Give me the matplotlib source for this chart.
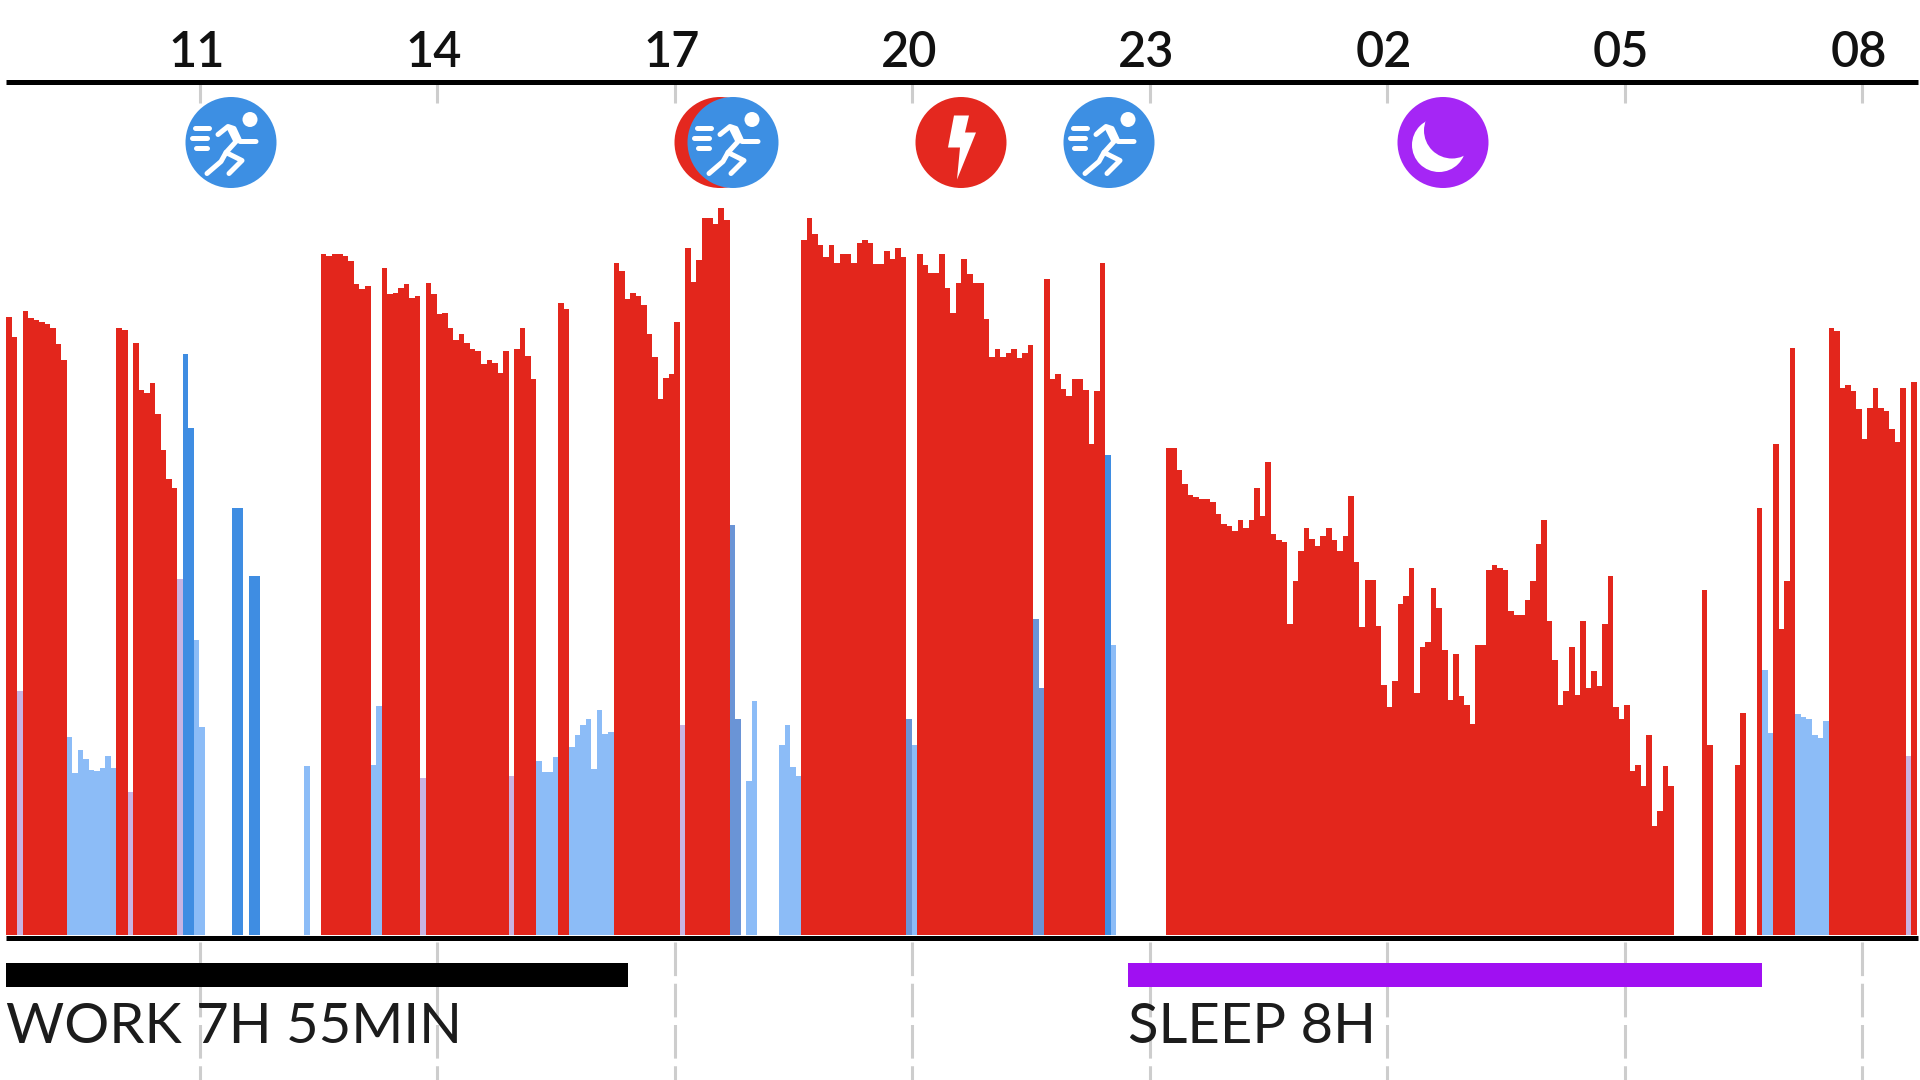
import matplotlib
matplotlib.use("Agg")
import matplotlib.pyplot as plt
from matplotlib.patches import Circle, Polygon
from matplotlib.transforms import ScaledTranslation
import numpy as np

plt.rcParams['font.family'] = ['Lato', 'DejaVu Sans']

# ---- data -------------------------------------------------------------
tick_hours = [11, 14, 17, 20, 23, 26, 29, 32]
tick_labels = ['11', '14', '17', '20', '23', '02', '05', '08']
bins_per_3h = 43
values = [
    1310,1268,518,1323,1308,1304,1300,1295,1286,1252,1218,420,344,393,373,350,348,353,380,353,
    1286,1282,303,1255,1154,1148,1170,1105,1028,966,948,755,1231,1074,626,440,0,0,0,0,
    0,904,904,0,760,760,0,0,0,0,0,0,0,0,358,0,0,1443,1438,1443,
    1444,1438,1428,1380,1368,1376,361,486,1413,1358,1360,1370,1380,1350,1353,333,1381,1358,1315,1318,
    1286,1260,1273,1255,1242,1238,1211,1218,1213,1190,1238,336,1242,1286,1226,1178,368,346,346,378,
    1340,1326,398,423,446,458,351,476,425,430,1425,1408,1348,1360,1353,1336,1273,1225,1136,1181,
    1188,1298,446,1455,1383,1431,1520,1520,1506,1540,1516,868,458,0,326,496,0,0,0,0,
    403,446,355,336,1473,1520,1486,1463,1436,1462,1425,1443,1443,1423,1466,1472,1466,1421,1421,1450,
    1433,1455,1436,458,403,1443,1420,1403,1403,1443,1370,1318,1381,1433,1400,1381,1381,1306,1225,1242,
    1225,1233,1242,1223,1233,1250,670,523,1390,1178,1188,1158,1143,1178,1178,1155,1040,1153,1425,1018,
    615,0,0,0,0,0,0,0,0,0,1033,1033,986,955,933,928,923,923,918,893,
    870,866,856,880,863,880,948,888,1003,850,838,833,658,750,813,863,840,825,846,863,
    838,813,846,930,791,653,753,753,655,530,483,538,701,718,778,513,610,620,736,693,
    603,498,596,506,488,448,615,615,773,783,778,773,686,678,678,710,750,828,880,665,
    583,488,518,610,508,665,523,560,528,658,761,483,458,488,348,361,315,423,230,263,
    358,315,0,0,0,0,0,731,403,0,0,0,0,361,471,0,0,905,561,428,
    1040,648,750,1243,468,463,458,423,418,453,1286,1280,1160,1165,1153,1115,1050,1116,1160,1116,
    1111,1073,1045,1160,380,1171,
]
light_bins = [11,12,13,14,15,16,17,18,19,34,35,54,66,67,96,97,98,99,102,103,104,105,106,107,108,109,
              134,135,140,141,142,143,164,200,318,319,324,325,326,327,328,329]
pale_bins = [2,22,31,75,91,122,344]
blue_bins = [32,33,41,42,44,45,199]
mid_bins = [131,132,163,186,187]
work_span = (8.553, 16.41)
sleep_span = (22.73, 30.73)
work_label = 'WORK 7H 55MIN'
sleep_label = 'SLEEP 8H'

# ---- colours ----------------------------------------------------------
RED = '#e3261c'; LIGHT = '#8cbcf7'; PALE = '#c8b4e2'; BLUE = '#3f8de2'; MID = '#6a94d6'
PURPLE = '#a010f2'; GRID = '#cdcdcd'
ICON_BLUE = '#3d8fe3'; ICON_RED = '#e4281f'; ICON_PURPLE = '#a526f5'

# ---- layout -----------------------------------------------------------
W, H = 1920, 1080
fig = plt.figure(figsize=(W/100, H/100), dpi=100, facecolor='white')
L_PX, R_PX, TOP_PX, BOT_PX = 6.0, 1918, 82, 937.5
ax = fig.add_axes([L_PX/W, 1-BOT_PX/H, (R_PX-L_PX)/W, (BOT_PX-TOP_PX)/H])
ax.patch.set_alpha(0)
binw = 3/bins_per_3h
px_per_bin = 5.523
start = work_span[0]
ax.set_xlim(start, start + (R_PX-L_PX)/px_per_bin*binw)
UNIT = 2.119   # value units per pixel
ax.set_ylim(-2.5*UNIT, -2.5*UNIT + (BOT_PX-TOP_PX)*UNIT)

vals = np.array(values, float)
x = start + np.arange(len(vals))*binw
colors = [RED]*len(vals)
for idx in light_bins: colors[idx] = LIGHT
for idx in pale_bins: colors[idx] = PALE
for idx in blue_bins: colors[idx] = BLUE
for idx in mid_bins: colors[idx] = MID
ax.bar(x, vals, width=binw, align='edge', color=colors, linewidth=0, antialiased=False, zorder=2)

for s in ('left', 'right'):
    ax.spines[s].set_visible(False)
for s in ('top', 'bottom'):
    ax.spines[s].set_linewidth(3.6)
    ax.spines[s].set_color('black')
    ax.spines[s].set_capstyle('butt')
    ax.spines[s].set_zorder(5)
ax.set_yticks([])
ax.xaxis.tick_top()
ax.set_xticks(tick_hours)
ax.set_xticklabels(tick_labels, fontsize=35, fontweight='semibold', color='#111111')
ax.tick_params(axis='x', direction='in', length=15, width=2.2, color=GRID, pad=4.5)
shift = ScaledTranslation(-2.5/72, 0, fig.dpi_scale_trans)
for lab in ax.get_xticklabels():
    lab.set_transform(lab.get_transform() + shift)

# lower dashed guide lines
for h in tick_hours:
    ax.plot([h, h], [-15, -307], color=GRID, lw=2.2, ls=(0, (11, 2.5)), clip_on=False, zorder=1)

# activity bars and labels
for span, col, lab in ((work_span, 'black', work_label), (sleep_span, PURPLE, sleep_label)):
    ax.broken_barh([(span[0], span[1]-span[0])], (-110, 51), facecolors=col, clip_on=False, zorder=3)
    ax.text(span[0], -229, lab, fontsize=40.5, color='#1c1c1c', ha='left', va='baseline',
            clip_on=False, zorder=3, fontweight='normal')

# ---- icons ------------------------------------------------------------
ov = fig.add_axes([0, 0, 1, 1])
ov.set_xlim(0, W); ov.set_ylim(H, 0); ov.axis('off'); ov.patch.set_alpha(0)
R = 45.5

def runner(cx, cy):
    ov.add_patch(Circle((cx, cy), R, fc=ICON_BLUE, ec='none', zorder=3))
    w = dict(color='white', lw=3.6, solid_capstyle='round', solid_joinstyle='round', zorder=4)
    ov.add_patch(Circle((cx+19, cy-23), 7.5, fc='white', ec='none', zorder=4))
    ov.plot([cx-36, cx-22], [cy-15, cy-15], **w)
    ov.plot([cx-39, cx-24], [cy-5, cy-5], **w)
    ov.plot([cx-35, cx-24], [cy+5, cy+5], **w)
    ov.plot([cx-13, cx-3, cx+3, cx+9, cx+25], [cy-8, cy-16, cy-14, cy-1, cy-1], **w)
    ov.plot([cx-2, cx+5, cx-5, cx+11, cx-2], [cy-15, cy-1, cy+10, cy+18, cy+31], **w)
    ov.plot([cx-5, cx-10, cx-24], [cy+10, cy+19, cy+31], **w)

runner(231, 142.5)
ov.add_patch(Circle((720, 142.5), R, fc=ICON_RED, ec='none', zorder=2))
runner(733, 142.5)
runner(1109, 142.5)

ov.add_patch(Circle((961, 142.5), R, fc=ICON_RED, ec='none', zorder=3))
bolt = [(-7, -27), (8, -27), (4, -10), (15, -10), (-4, 37), (-1, 5), (-13, 5)]
ov.add_patch(Polygon([(961+a, 142.5+b) for a, b in bolt], fc='white', ec='none', zorder=4))

ov.add_patch(Circle((1443, 142.5), R, fc=ICON_PURPLE, ec='none', zorder=3))
ov.add_patch(Circle((1439, 145), 27, fc='white', ec='none', zorder=4))
ov.add_patch(Circle((1452, 130.5), 28, fc=ICON_PURPLE, ec='none', zorder=5))

fig.savefig('out.png', dpi=100, facecolor='white')
print(len(values))
